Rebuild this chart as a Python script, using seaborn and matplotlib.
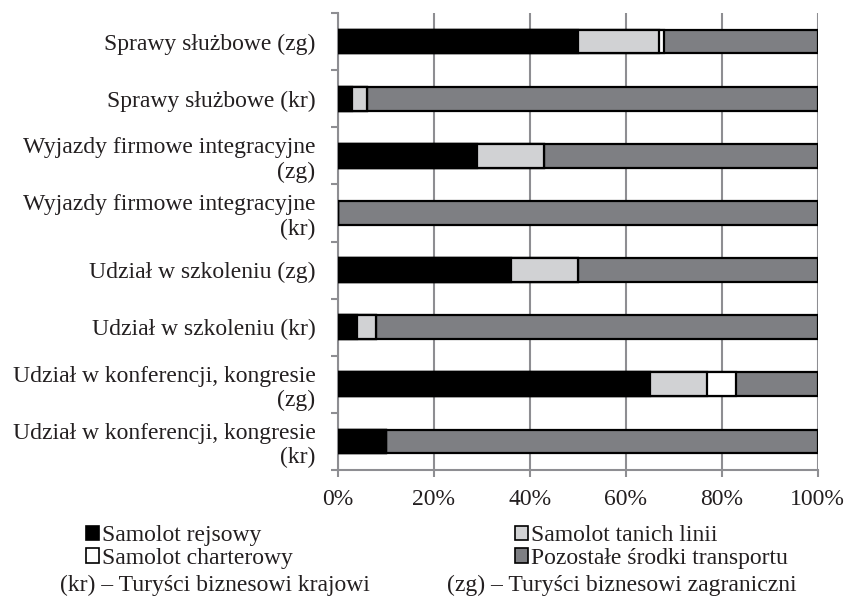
import numpy as np
import pandas as pd
import seaborn as sns
import matplotlib
matplotlib.use("Agg")
import matplotlib.pyplot as plt
from matplotlib.patches import Patch

# Categories (top to bottom) and shares of each means of transport [%]
categories = [
    "Sprawy służbowe (zg)",
    "Sprawy służbowe (kr)",
    "Wyjazdy firmowe integracyjne\n(zg)",
    "Wyjazdy firmowe integracyjne\n(kr)",
    "Udział w szkoleniu (zg)",
    "Udział w szkoleniu (kr)",
    "Udział w konferencji, kongresie\n(zg)",
    "Udział w konferencji, kongresie\n(kr)",
]
samolot_rejsowy = [50, 3, 29, 0, 36, 4, 65, 10]
samolot_tanich_linii = [17, 3, 14, 0, 14, 4, 12, 0]
samolot_charterowy = [1, 0, 0, 0, 0, 0, 6, 0]
pozostale = [32, 94, 57, 100, 50, 92, 17, 90]

series_names = ["Samolot rejsowy", "Samolot tanich linii",
                "Samolot charterowy", "Pozostałe środki transportu"]
series_values = [samolot_rejsowy, samolot_tanich_linii,
                 samolot_charterowy, pozostale]
series_colors = ["#000000", "#d1d2d4", "#ffffff", "#7e7f83"]

x_ticks = [0, 20, 40, 60, 80, 100]
x_tick_labels = ["0%", "20%", "40%", "60%", "80%", "100%"]

footnote_kr = "(kr) – Turyści biznesowi krajowi"
footnote_zg = "(zg) – Turyści biznesowi zagraniczni"

text_color = "#231f20"
grid_color = "#8e8e92"

sns.set_theme(style="white")
plt.rcParams["font.family"] = ["Liberation Serif", "DejaVu Serif"]
plt.rcParams["font.size"] = 17

fig = plt.figure(figsize=(8.51, 6.0), dpi=100)
ax = fig.add_axes([0.397, 0.217, 0.564, 0.761])

# Long-form table with cumulative right edges of each stacked segment
cum = np.cumsum(np.array(series_values, dtype=float), axis=0)
rows = []
for s_idx, name in enumerate(series_names):
    for c_idx, cat in enumerate(categories):
        rows.append({"kategoria": cat, "seria": name,
                     "koniec": cum[s_idx, c_idx]})
df = pd.DataFrame(rows)

# Draw from the outermost segment inwards so each segment overlays the next
for s_idx in range(len(series_names) - 1, -1, -1):
    sub = df[df["seria"] == series_names[s_idx]]
    sns.barplot(data=sub, x="koniec", y="kategoria", order=categories,
                orient="h", color=series_colors[s_idx], saturation=1,
                edgecolor="black", linewidth=1.6, width=0.41, ax=ax,
                zorder=3)

ax.set_xlim(0, 100)
ax.set_ylim(len(categories) - 0.5, -0.5)
ax.set_xlabel("")
ax.set_ylabel("")

ax.set_xticks(x_ticks)
ax.set_xticklabels(x_tick_labels)
ax.xaxis.grid(True, color=grid_color, linewidth=1.5, zorder=0)
ax.yaxis.grid(False)
ax.set_axisbelow(True)

for side in ["top", "right"]:
    ax.spines[side].set_visible(False)
for side in ["left", "bottom"]:
    ax.spines[side].set_color(grid_color)
    ax.spines[side].set_linewidth(1.5)

ax.tick_params(axis="x", which="major", direction="out", length=5,
               width=1.5, color=grid_color, pad=9, labelsize=17,
               labelcolor=text_color, bottom=True)
ax.tick_params(axis="y", which="major", length=0, pad=16, labelsize=17,
               labelcolor=text_color, left=True)
ax.set_yticks(np.arange(-0.5, len(categories) + 0.5, 1.0), minor=True)
ax.tick_params(axis="y", which="minor", direction="out", length=5,
               width=1.5, color=grid_color, left=True)

# Legend: two columns below the plot
def legend_column(idx, x_pos):
    handles = [Patch(facecolor=series_colors[i], edgecolor="black",
                     linewidth=1.2, label=series_names[i]) for i in idx]
    leg = fig.legend(handles=handles, loc="upper left",
                     bbox_to_anchor=(x_pos, 0.125),
                     bbox_transform=fig.transFigure, frameon=False,
                     handlelength=0.55, handleheight=0.55,
                     handletextpad=0.15, labelspacing=0.08,
                     borderaxespad=0, borderpad=0, fontsize=17,
                     labelcolor=text_color)
    return leg

legend_column([0, 2], 0.101)
legend_column([1, 3], 0.605)

fig.text(0.4348, 0.025, footnote_kr, fontsize=17, color=text_color,
         va="center", ha="right")
fig.text(0.525, 0.025, footnote_zg, fontsize=17, color=text_color,
         va="center", ha="left")

fig.savefig("out.png", dpi=100, facecolor="white")
